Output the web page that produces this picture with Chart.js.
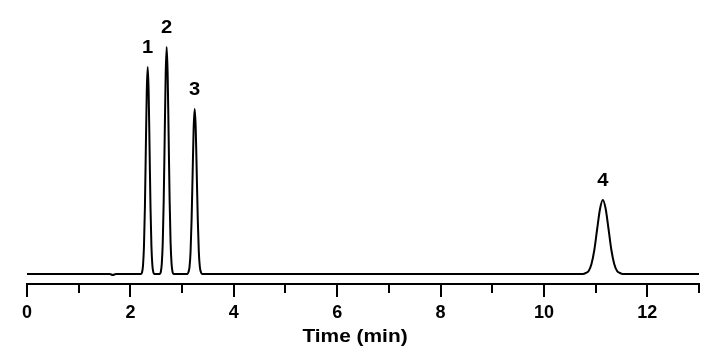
<!DOCTYPE html>
<html>
<head>
<meta charset="utf-8">
<script src="https://cdn.jsdelivr.net/npm/chart.js@4"></script>
<style>
  html, body { margin: 0; padding: 0; background: #ffffff; }
  canvas { display: block; }
</style>
</head>
<body>
<canvas id="c" width="727" height="356"></canvas>
<script>
// Chromatogram trace: retention time (min) and detector signal (arbitrary units)
const times = [
  0, 1.60, 1.66, 1.72,
  2.209, 2.227, 2.245, 2.263, 2.281, 2.299, 2.317, 2.335, 2.353, 2.371, 2.389, 2.407, 2.425, 2.443, 2.461,
  2.569, 2.588, 2.607, 2.626, 2.645, 2.664, 2.683, 2.702, 2.721, 2.740, 2.759, 2.778, 2.797, 2.816, 2.835,
  3.104, 3.124, 3.144, 3.164, 3.184, 3.204, 3.224, 3.244, 3.264, 3.284, 3.304, 3.324, 3.344, 3.364, 3.384,
  10.755, 10.81, 10.865, 10.92, 10.975, 11.03, 11.085, 11.14, 11.195, 11.25, 11.305, 11.36, 11.415, 11.47, 11.525,
  13
];
const signal = [
  0, 0, -1, 0,
  0, 2, 9, 28, 67, 126, 183, 207, 183, 126, 67, 28, 9, 2, 0,
  0, 2, 10, 31, 74, 138, 200, 227, 200, 138, 74, 31, 10, 2, 0,
  0, 2, 7, 22, 54, 100, 146, 165, 146, 100, 54, 22, 7, 2, 0,
  0, 1, 3, 10, 24, 45, 65, 74, 65, 45, 24, 10, 3, 1, 0,
  0
];
// Peak annotations
const peakLabels = ['1', '2', '3', '4'];
const peakTimes = [2.335, 2.702, 3.244, 11.14];
const peakHeights = [207, 227, 165, 74];
// Axis
const xMin = 0, xMax = 13, xStep = 1, labelEvery = 2;
const xTitle = 'Time (min)';

const FONT = '"Liberation Sans", Arial, Helvetica, sans-serif';

const points = times.map((t, i) => ({ x: t, y: signal[i] }));

const peakLabelPlugin = {
  id: 'peakLabels',
  afterDatasetsDraw(chart) {
    const ctx = chart.ctx;
    const xs = chart.scales.x, ys = chart.scales.y;
    ctx.save();
    ctx.fillStyle = '#000';
    ctx.font = 'bold 18px ' + FONT;
    ctx.textAlign = 'center';
    ctx.textBaseline = 'middle';
    peakLabels.forEach((lab, i) => {
      const px = xs.getPixelForValue(peakTimes[i]);
      const py = ys.getPixelForValue(peakHeights[i]) - 19;
      ctx.save();
      ctx.translate(px, py);
      ctx.scale(1.12, 1);
      ctx.fillText(lab, 0, 0);
      ctx.restore();
    });
    ctx.restore();
  }
};

const axisExtrasPlugin = {
  id: 'axisExtras',
  afterDraw(chart) {
    const ctx = chart.ctx;
    const xs = chart.scales.x;
    const area = chart.chartArea;
    ctx.save();
    // minor ticks
    ctx.strokeStyle = '#000';
    ctx.lineWidth = 2;
    xs.ticks.forEach(t => {
      if (Math.round(t.value) % labelEvery !== 0) {
        const px = Math.round(xs.getPixelForValue(t.value));
        ctx.beginPath();
        ctx.moveTo(px, area.bottom);
        ctx.lineTo(px, area.bottom + 9);
        ctx.stroke();
      }
    });
    // axis title
    ctx.fillStyle = '#000';
    ctx.font = 'bold 18px ' + FONT;
    ctx.textAlign = 'center';
    ctx.textBaseline = 'alphabetic';
    ctx.translate((area.left + area.right) / 2 - 8, area.bottom + 58);
    ctx.scale(1.16, 1);
    ctx.fillText(xTitle, 0, 0);
    ctx.restore();
  }
};

new Chart(document.getElementById('c'), {
  type: 'line',
  data: {
    datasets: [{
      data: points,
      borderColor: '#000',
      borderWidth: 2,
      pointRadius: 0,
      fill: false,
      tension: 0,
      cubicInterpolationMode: 'monotone'
    }]
  },
  options: {
    responsive: false,
    animation: false,
    devicePixelRatio: 1,
    layout: { padding: { left: 27, right: 28, top: 10, bottom: 0 } },
    plugins: { legend: { display: false }, tooltip: { enabled: false } },
    scales: {
      x: {
        type: 'linear',
        min: xMin,
        max: xMax,
        afterFit(scale) { scale.height = 72; },
        border: { display: true, color: '#000', width: 2 },
        grid: {
          drawOnChartArea: false,
          drawTicks: true,
          tickLength: 13,
          lineWidth: 2,
          color: ctx => (Math.round(ctx.tick.value) % labelEvery === 0 ? '#000' : 'rgba(0,0,0,0)')
        },
        ticks: {
          stepSize: xStep,
          autoSkip: false,
          maxRotation: 0,
          padding: 5,
          color: '#000',
          font: { family: FONT, size: 18, weight: 'bold' },
          callback: v => (Math.round(v) % labelEvery === 0 ? String(v) : '')
        },
        title: { display: false, text: xTitle }
      },
      y: {
        display: false,
        min: -10,
        max: 264
      }
    }
  },
  plugins: [peakLabelPlugin, axisExtrasPlugin]
});
</script>
</body>
</html>
